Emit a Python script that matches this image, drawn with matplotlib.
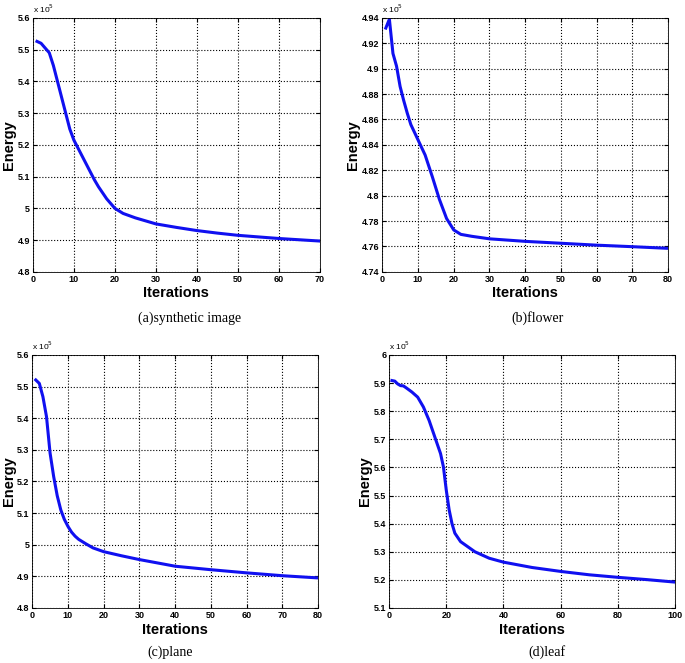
import matplotlib
matplotlib.use("Agg")
import matplotlib.pyplot as plt

# energy curves (values in units of 1e5)
x_a = [1, 2, 3, 4, 5, 6, 7, 8, 9, 10, 12, 14, 15, 16, 18, 20, 22, 25, 30, 35, 40, 45, 50, 55, 60, 65, 70]
y_a = [5.526, 5.52, 5.505, 5.49, 5.45, 5.40, 5.35, 5.30, 5.25, 5.215, 5.165, 5.115, 5.09, 5.068, 5.03, 5.00,
       4.984, 4.97, 4.951, 4.94, 4.93, 4.922, 4.915, 4.91, 4.905, 4.901, 4.897]

x_b = [1, 2, 3, 4, 5, 6, 7, 8, 10, 12, 14, 16, 18, 20, 22, 25, 30, 40, 50, 60, 70, 80]
y_b = [4.932, 4.939, 4.912, 4.902, 4.886, 4.875, 4.865, 4.856, 4.844, 4.832, 4.815, 4.797, 4.782, 4.773,
       4.7695, 4.768, 4.766, 4.764, 4.7625, 4.761, 4.7598, 4.7585]

x_c = [1, 2, 3, 4, 5, 6, 7, 8, 9, 10, 11, 12, 13, 15, 17, 20, 25, 30, 40, 50, 60, 70, 80]
y_c = [5.521, 5.51, 5.468, 5.405, 5.29, 5.216, 5.155, 5.11, 5.08, 5.058, 5.04, 5.027, 5.017, 5.003, 4.99,
       4.978, 4.965, 4.953, 4.932, 4.921, 4.911, 4.902, 4.895]

x_d = [1, 2, 3, 4, 5, 6, 8, 10, 12, 14, 16, 18, 19, 20, 21, 22, 23, 25, 30, 35, 40, 50, 60, 70, 80, 90, 100]
y_d = [5.909, 5.907, 5.897, 5.891, 5.89, 5.883, 5.868, 5.85, 5.815, 5.767, 5.708, 5.649, 5.602, 5.519,
       5.449, 5.40, 5.366, 5.336, 5.30, 5.277, 5.263, 5.244, 5.23, 5.218, 5.209, 5.201, 5.192]

panels = [
    (x_a, y_a, [0, 70], [4.8, 5.6], [0, 10, 20, 30, 40, 50, 60, 70],
     [4.8, 4.9, 5.0, 5.1, 5.2, 5.3, 5.4, 5.5, 5.6], ['4.8', '4.9', '5', '5.1', '5.2', '5.3', '5.4', '5.5', '5.6'],
     '(a)synthetic image', [0.048, 0.590, 0.419, 0.383], 0.277, 0.520),
    (x_b, y_b, [0, 80], [4.74, 4.94], [0, 10, 20, 30, 40, 50, 60, 70, 80],
     [4.74, 4.76, 4.78, 4.80, 4.82, 4.84, 4.86, 4.88, 4.90, 4.92, 4.94],
     ['4.74', '4.76', '4.78', '4.8', '4.82', '4.84', '4.86', '4.88', '4.9', '4.92', '4.94'],
     '(b)flower', [0.558, 0.590, 0.4175, 0.383], 0.784, 0.520),
    (x_c, y_c, [0, 80], [4.8, 5.6], [0, 10, 20, 30, 40, 50, 60, 70, 80],
     [4.8, 4.9, 5.0, 5.1, 5.2, 5.3, 5.4, 5.5, 5.6], ['4.8', '4.9', '5', '5.1', '5.2', '5.3', '5.4', '5.5', '5.6'],
     '(c)plane', [0.047, 0.083, 0.4175, 0.3816], 0.248, 0.016),
    (x_d, y_d, [0, 100], [5.1, 6.0], [0, 20, 40, 60, 80, 100],
     [5.1, 5.2, 5.3, 5.4, 5.5, 5.6, 5.7, 5.8, 5.9, 6.0],
     ['5.1', '5.2', '5.3', '5.4', '5.5', '5.6', '5.7', '5.8', '5.9', '6'],
     '(d)leaf', [0.568, 0.083, 0.4175, 0.3816], 0.798, 0.016),
]

fig = plt.figure(figsize=(6.85, 6.63), dpi=100)

for xs, ys, xl, yl, xt, yt, ytl, cap, pos, capx, capy in panels:
    ax = fig.add_axes(pos)
    ax.plot(xs, ys, color='#1010f0', lw=2.2)
    ax.set_xlim(xl)
    ax.set_ylim(yl)
    ax.set_xticks(xt)
    ax.set_xticklabels([str(t) for t in xt])
    ax.set_yticks(yt)
    ax.set_yticklabels(ytl)
    ax.grid(True, linestyle=':', color='black', lw=0.8)
    ax.tick_params(direction='in', top=True, right=True, labelsize=6.5, length=3, pad=2)
    for lab in ax.get_xticklabels() + ax.get_yticklabels():
        lab.set_family('Liberation Sans')
        lab.set_weight('bold')
    for s in ax.spines.values():
        s.set_linewidth(0.6)
    ax.set_xlabel('Iterations', family='Liberation Sans', fontsize=10.5, weight='bold', labelpad=2)
    ax.set_ylabel('Energy', family='Liberation Sans', fontsize=10.5, weight='bold', labelpad=1)
    ax.text(0.0, 1.01, r'x 10$^5$', transform=ax.transAxes, fontsize=6, family='Liberation Sans',
            ha='left', va='bottom')
    fig.text(capx, capy, cap, family='Liberation Serif', fontsize=10, ha='center', va='center')

fig.savefig('out.png', dpi=100)
